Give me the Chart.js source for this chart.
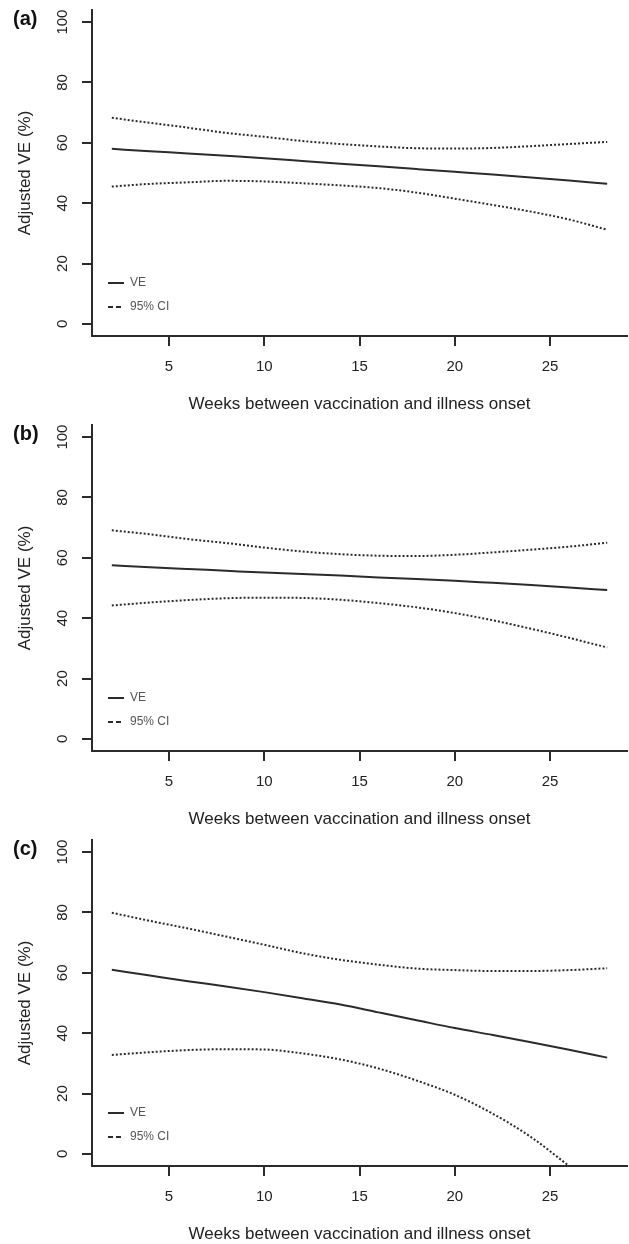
<!DOCTYPE html>
<html>
<head>
<meta charset="utf-8">
<script src="https://cdn.jsdelivr.net/npm/chart.js@4.4.0/dist/chart.umd.min.js"></script>
<style>
body{margin:0;background:#fff;width:629px;overflow:hidden}
.panel{position:relative;width:629px;height:415px}
.tag{position:absolute;left:13px;top:6px;font:bold 20px 'Liberation Sans',Arial,sans-serif;color:#111;line-height:24px}
</style>
</head>
<body>
<div class="panel"><span class="tag">(a)</span><canvas id="chartA"></canvas></div>
<div class="panel"><span class="tag">(b)</span><canvas id="chartB"></canvas></div>
<div class="panel"><span class="tag">(c)</span><canvas id="chartC"></canvas></div>
<script>
const weeks=[2,4,6,8,10,12,14,16,18,20,22,24,26,28]
const xTicks=[5,10,15,20,25]
const yTicks=[0,20,40,60,80,100]

// (a)
const veA=[58.0,57.2,56.5,55.7,54.9,54.0,53.1,52.2,51.3,50.4,49.5,48.5,47.5,46.4]
const upperA=[68.3,66.6,65.0,63.3,62.0,60.6,59.6,58.8,58.2,58.1,58.3,58.9,59.6,60.3]
const lowerA=[45.5,46.4,46.9,47.4,47.2,46.6,45.9,45.0,43.5,41.5,39.4,37.2,34.6,31.2]
// (b)
const veB=[57.5,56.9,56.3,55.7,55.1,54.6,54.1,53.5,53.0,52.4,51.7,51.0,50.2,49.3]
const upperB=[69.1,67.8,66.2,64.9,63.4,62.1,61.2,60.7,60.6,61.0,61.8,62.7,63.7,65.0]
const lowerB=[44.2,45.2,46.0,46.6,46.8,46.7,46.1,45.0,43.6,41.7,39.3,36.5,33.5,30.3]
// (c)
const veC=[61.0,59.1,57.2,55.5,53.6,51.6,49.5,46.9,44.3,41.7,39.4,37.0,34.5,31.9]
const upperC=[79.9,77.2,74.7,72.0,69.3,66.5,64.3,62.7,61.4,60.9,60.6,60.6,60.9,61.5]
const lowerC=[32.8,33.7,34.4,34.7,34.6,33.3,31.3,28.3,24.3,19.6,13.3,5.6,-4.0,null]

const family="'Liberation Sans', Arial, sans-serif"
const ink='#2b2b2b'

const ciLegend={
    id:'ciLegend',
    afterDraw(chart){
        const {ctx,chartArea}=chart
        const rows=[chart.data.datasets[0],chart.data.datasets[1]]
        ctx.save()
        rows.forEach((ds,i)=>{
            const x=chartArea.left+16
            const y=chartArea.bottom-53+i*24
            ctx.strokeStyle=ds.borderColor
            ctx.lineWidth=2
            ctx.setLineDash(i?[5,3]:[])
            ctx.beginPath()
            ctx.moveTo(x,y)
            ctx.lineTo(x+16,y)
            ctx.stroke()
            ctx.setLineDash([])
            ctx.fillStyle='#555'
            ctx.font='12px '+family
            ctx.textBaseline='middle'
            ctx.fillText(ds.label,x+22,y)
        })
        ctx.restore()
    }
}

function pts(vals){
    return weeks.map((w,i)=>({x:w,y:vals[i]}))
}

function makeChart(id,ve,upper,lower){
    const line={pointRadius:0,borderColor:ink,borderWidth:2,cubicInterpolationMode:'monotone'}
    return new Chart(document.getElementById(id),{
        type:'line',
        data:{
            datasets:[
                {...line,label:'VE',data:pts(ve)},
                {...line,label:'95% CI',data:pts(upper),borderDash:[2,2]},
                {...line,label:'95% CI',data:pts(lower),borderDash:[2,2]}
            ]
        },
        plugins:[ciLegend],
        options:{
            responsive:true,
            maintainAspectRatio:false,
            animation:false,
            layout:{padding:{top:10,right:2,left:0,bottom:0}},
            plugins:{legend:{display:false},tooltip:{enabled:false}},
            scales:{
                x:{
                    type:'linear',
                    min:0.96,
                    max:29.04,
                    afterBuildTicks:s=>{s.ticks=xTicks.map(v=>({value:v}))},
                    afterFit:s=>{s.height=79;s.paddingLeft=0;s.paddingRight=0},
                    grid:{drawOnChartArea:false,tickLength:10,color:ink,lineWidth:2},
                    border:{color:ink,width:2},
                    ticks:{font:{size:15,family},color:'#222',padding:12},
                    title:{display:true,text:'Weeks between vaccination and illness onset',font:{size:17,family},color:'#222',padding:{top:0,bottom:0}}
                },
                y:{
                    type:'linear',
                    min:-4,
                    max:104,
                    afterBuildTicks:s=>{s.ticks=yTicks.map(v=>({value:v}))},
                    afterFit:s=>{s.width=92;s.paddingTop=0;s.paddingBottom=0},
                    grid:{drawOnChartArea:false,tickLength:10,color:ink,lineWidth:2},
                    border:{color:ink,width:2},
                    ticks:{font:{size:15,family},color:'#222',padding:6.5,minRotation:90,maxRotation:90,crossAlign:'center'},
                    title:{display:true,text:'Adjusted VE (%)',font:{size:17,family},color:'#222',padding:{top:15,bottom:0}}
                }
            }
        }
    })
}

makeChart('chartA',veA,upperA,lowerA)
makeChart('chartB',veB,upperB,lowerB)
makeChart('chartC',veC,upperC,lowerC)
</script>
</body>
</html>
